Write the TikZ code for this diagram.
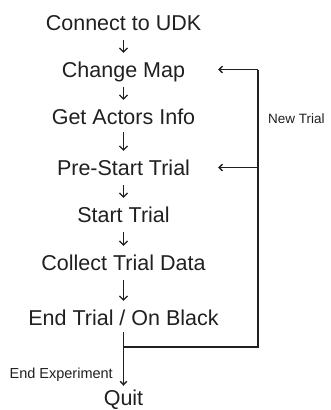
\documentclass[tikz,border=0pt]{standalone}
\usepackage{fontspec}
\setmainfont{Liberation Sans}
\usetikzlibrary{arrows.meta}
\definecolor{ink}{rgb}{0.13,0.12,0.12}
\begin{document}
\begin{tikzpicture}[x=1pt,y=-1pt,
  stepnode/.style={font=\fontsize{21.5}{24}\selectfont, text=ink, inner sep=0pt,
     text height=25pt, text depth=10pt, anchor=base},
  smallarrow/.style={draw=ink, line width=1.2pt, shorten <=-0.5pt, shorten >=-1pt,
     -{Straight Barb[length=4pt,width=8pt]}},
  loopline/.style={draw=ink, line width=1.4pt},
  looparrow/.style={draw=ink, line width=1.4pt, -{Straight Barb[length=3.5pt,width=6.5pt]}},
  labeltext/.style={text=ink, inner sep=0pt}]
\useasboundingbox (0,0) rectangle (331,410);
\node[stepnode] (c) at (123.5,30) {Connect to UDK};
\node[stepnode] (cm) at (123.5,77) {Change Map};
\node[stepnode] (ga) at (123.5,124) {Get Actors Info};
\node[stepnode] (ps) at (123.5,175) {Pre-Start Trial};
\node[stepnode] (st) at (123.5,222) {Start Trial};
\node[stepnode] (ct) at (123.5,270) {Collect Trial Data};
\node[stepnode] (et) at (123.5,325) {End Trial / On Black};
\node[stepnode] (q) at (123.5,405) {Quit};
\draw[smallarrow] (c.south) -- (cm.north);
\draw[smallarrow] (cm.south) -- (ga.north);
\draw[smallarrow, shorten <=-2pt] (ga.south) -- (ps.north);
\draw[smallarrow] (ps.south) -- (st.north);
\draw[smallarrow] (st.south) -- (ct.north);
\draw[smallarrow] (ct.south) -- (et.north);
\coordinate (tipx) at (218,0);
\coordinate (rx) at (258,0);
\coordinate (j) at (123.5,347);
\draw[looparrow, shorten <=-3pt, shorten >=-6pt] (et.south) -- (q.north);
\draw[loopline] (j) -| (rx |- cm);
\draw[looparrow] (rx |- cm) -- (tipx |- cm);
\draw[looparrow] (rx |- ps) -- (tipx |- ps);
\node[labeltext, font=\fontsize{13.5}{15}\selectfont, anchor=base west] (nt) at (268,123) {New Trial};
\node[labeltext, font=\fontsize{14.5}{16}\selectfont, anchor=base east] (ee) at (113,378) {End Experiment};
\end{tikzpicture}
\end{document}
